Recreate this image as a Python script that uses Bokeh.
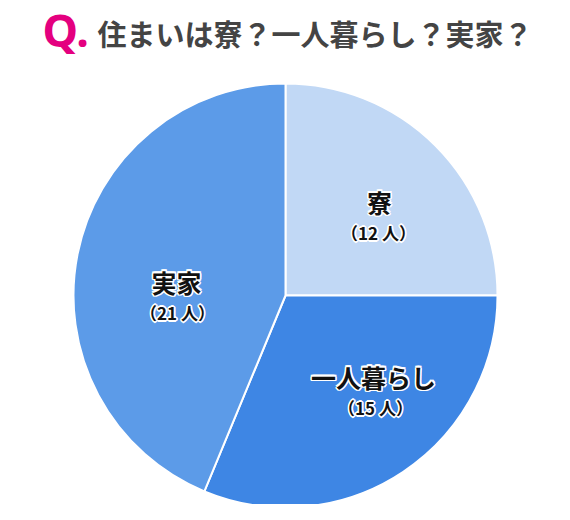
import math
from bokeh.plotting import figure
from bokeh.models import Range1d, ColumnDataSource
from bokeh.core.properties import value
from bokeh.embed import file_html
from bokeh.resources import INLINE

# data
categories = ["寮", "一人暮らし", "実家"]
counts = [12, 15, 21]
count_labels = ["（12 人）", "（15 人）", "（21 人）"]
colors = ["#C1D8F5", "#3E86E4", "#5C9BE8"]
title_q = "Q."
title_text = "住まいは寮？一人暮らし？実家？"

W, H = 554, 504
p = figure(width=W, height=H, output_backend="svg", toolbar_location=None,
           x_range=Range1d(0, W), y_range=Range1d(0, H),
           min_border=0, outline_line_color=None)
p.axis.visible = False
p.grid.visible = False
p.background_fill_color = "white"
p.border_fill_color = "white"

def Y(img_y):
    return H - img_y

cx, cy, r = 285, Y(295), 212
total = sum(counts)
starts, ends = [], []
acc = 0
for c in counts:
    starts.append(math.pi / 2 - acc / total * 2 * math.pi)
    acc += c
    ends.append(math.pi / 2 - acc / total * 2 * math.pi)

src = ColumnDataSource(dict(start=starts, end=ends, color=colors))
p.wedge(x=cx, y=cy, radius=r, start_angle="start", end_angle="end",
        direction="clock", fill_color="color", line_color="white",
        line_width=2, source=src)

# label positions (image coords)
name_pos = [(379, 201), (373, 376), (176, 281)]
cnt_pos = [(378, 232), (375, 407), (177, 312)]

def outlined(xs, ys, texts, size):
    offs = [(-1.6, 0), (1.6, 0), (0, -1.6), (0, 1.6),
            (-1.2, -1.2), (1.2, -1.2), (-1.2, 1.2), (1.2, 1.2)]
    for dx, dy in offs:
        p.text(x=xs, y=ys, text=texts, x_offset=dx, y_offset=dy,
               text_font=value("Noto Sans CJK JP"), text_font_style="bold",
               text_font_size=size, text_color="white", text_align="center",
               text_baseline="middle")
    p.text(x=xs, y=ys, text=texts,
           text_font=value("Noto Sans CJK JP"), text_font_style="bold",
           text_font_size=size, text_color="#111111", text_align="center",
           text_baseline="middle")

outlined([q[0] for q in name_pos], [Y(q[1]) for q in name_pos], categories, "25px")
outlined([q[0] for q in cnt_pos], [Y(q[1]) for q in cnt_pos], count_labels, "17px")

# title
p.text(x=[42], y=[Y(29)], text=[title_q], text_font=value("Noto Sans"),
       text_font_style="bold", text_font_size="45px", text_color="#E4007F",
       text_align="left", text_baseline="middle")
p.text(x=[97], y=[Y(32)], text=[title_text], text_font=value("Noto Sans CJK JP"),
       text_font_style="bold", text_font_size="29px", text_color="#444444",
       text_align="left", text_baseline="middle")

open("out.html", "w").write(file_html(p, INLINE))
